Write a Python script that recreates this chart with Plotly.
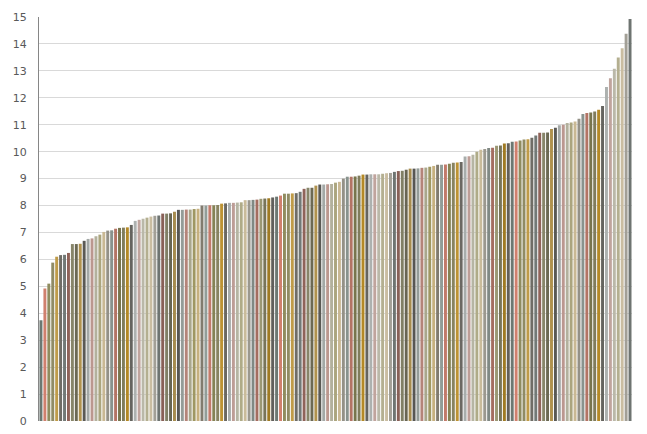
import colorsys
import plotly.graph_objects as go

# Sorted values
values = [
    3.74, 4.92, 5.10, 5.88, 6.10, 6.16, 6.17, 6.24, 6.57, 6.57,
    6.58, 6.69, 6.76, 6.78, 6.86, 6.92, 7.02, 7.07, 7.08, 7.14,
    7.17, 7.18, 7.19, 7.28, 7.43, 7.47, 7.51, 7.55, 7.59, 7.62,
    7.63, 7.70, 7.70, 7.71, 7.77, 7.84, 7.84, 7.85, 7.85, 7.87,
    7.88, 8.00, 8.00, 8.01, 8.01, 8.02, 8.07, 8.08, 8.10, 8.10,
    8.11, 8.12, 8.20, 8.20, 8.21, 8.22, 8.25, 8.26, 8.27, 8.30,
    8.33, 8.37, 8.44, 8.44, 8.45, 8.46, 8.51, 8.62, 8.66, 8.66,
    8.74, 8.78, 8.78, 8.79, 8.80, 8.85, 8.88, 9.00, 9.07, 9.07,
    9.08, 9.11, 9.15, 9.15, 9.16, 9.16, 9.16, 9.18, 9.20, 9.21,
    9.25, 9.28, 9.29, 9.33, 9.37, 9.37, 9.38, 9.40, 9.41, 9.44,
    9.47, 9.51, 9.51, 9.52, 9.55, 9.59, 9.60, 9.62, 9.82, 9.83,
    9.89, 10.00, 10.07, 10.10, 10.14, 10.15, 10.22, 10.23, 10.30, 10.31,
    10.37, 10.38, 10.41, 10.45, 10.46, 10.52, 10.60, 10.70, 10.70, 10.71,
    10.84, 10.89, 10.98, 11.00, 11.06, 11.08, 11.12, 11.22, 11.40, 11.44,
    11.45, 11.49, 11.56, 11.70, 12.40, 12.73, 13.08, 13.50, 13.84, 14.38,
    14.93,
]
categories = [str(i + 1) for i in range(len(values))]
y_ticks = list(range(0, 16))

# Theme accents and Excel-like variations (vary colours by point)
accents = ["#7A8A82", "#C0563E", "#A8A468", "#6B6430", "#E8B84A", "#3F3C33"]
variants = [(1.0, 0.0), (0.55, 0.0), (0.45, 0.55), (0.8, 0.0), (0.35, 0.65),
            (0.5, 0.0), (0.6, 0.4), (0.9, 0.0), (0.4, 0.6), (0.7, 0.0)]


def vary(hexc, mod, off):
    r, g, b = (int(hexc[i:i + 2], 16) / 255 for i in (1, 3, 5))
    h, l, s = colorsys.rgb_to_hls(r, g, b)
    l = min(1.0, l * mod + off)
    r, g, b = colorsys.hls_to_rgb(h, l, s)
    return "#%02x%02x%02x" % (round(r * 255), round(g * 255), round(b * 255))


colors = []
for i in range(len(values)):
    a = accents[i % 6]
    m, o = variants[(i // 6) % len(variants)]
    colors.append(vary(a, m, o))

fig = go.Figure(go.Bar(
    x=categories, y=values,
    marker=dict(color=colors, line=dict(width=0),
                pattern=dict(shape="-", fgcolor="rgba(255,255,255,0.12)",
                             size=2, solidity=0.5)),
))

fig.update_layout(
    width=647, height=434,
    margin=dict(l=39, r=15, t=17, b=13, pad=0, autoexpand=False),
    paper_bgcolor="white", plot_bgcolor="white",
    bargap=0.25, showlegend=False,
    font=dict(family="DejaVu Sans", size=11, color="#595959"),
)
fig.update_xaxes(visible=False, automargin=False,
                 range=[-0.5, len(values) - 0.5])
fig.update_yaxes(
    range=[0, 15], tickvals=y_ticks, showgrid=True, gridcolor="#d9d9d9",
    gridwidth=1, zeroline=False, showline=True, linecolor="#868686",
    linewidth=1, ticks="", ticklabelstandoff=9, automargin=False,
    tickfont=dict(family="DejaVu Sans", size=11, color="#595959"),
)

# remove the browser's default 8px body margin so the figure sits at (0, 0)
fig.write_html("out.html", config={"displayModeBar": False},
               post_script="document.body.style.margin='0';")
